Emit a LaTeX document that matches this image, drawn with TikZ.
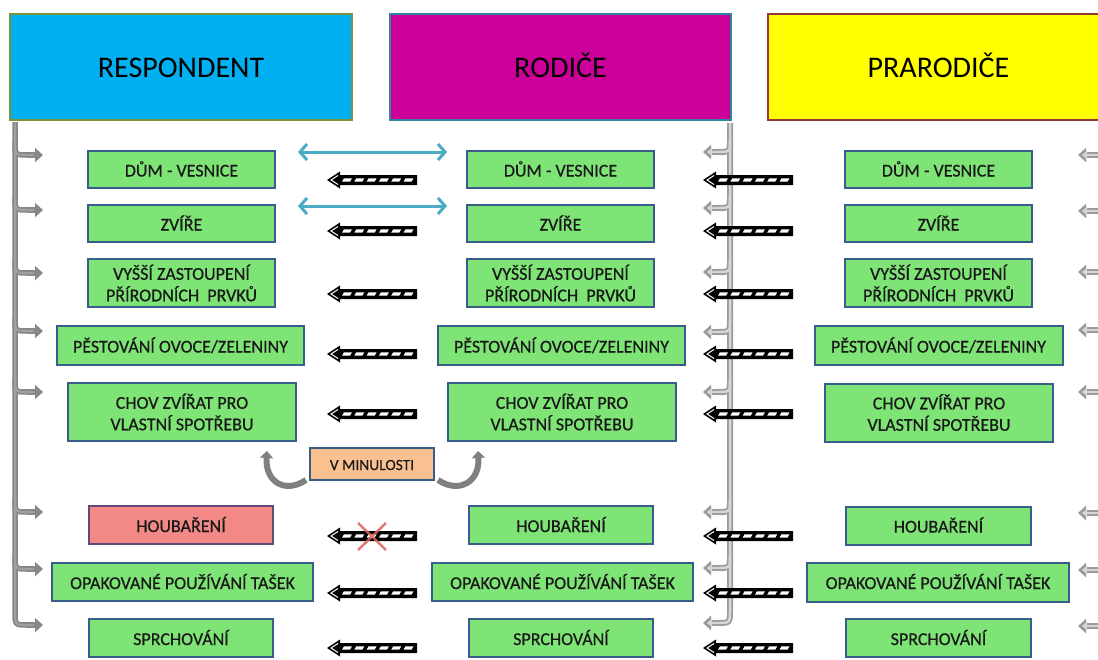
\documentclass[tikz,border=0pt]{standalone}
\usepackage{fontspec}
\setmainfont{Carlito}
\newfontface\boxfont{Carlito}[FakeBold=0.5]
\usetikzlibrary{arrows.meta}
\definecolor{gfill}{RGB}{126,228,118}
\definecolor{bbord}{RGB}{56,93,138}
\definecolor{rfill}{RGB}{242,137,134}
\definecolor{rbord}{RGB}{96,74,123}
\definecolor{ofill}{RGB}{250,192,144}
\definecolor{cyanF}{RGB}{0,176,240}
\definecolor{cyanB}{RGB}{119,147,60}
\definecolor{magF}{RGB}{204,0,153}
\definecolor{magB}{RGB}{49,133,156}
\definecolor{yelF}{RGB}{255,255,0}
\definecolor{yelB}{RGB}{149,55,53}
\definecolor{blueA}{RGB}{75,172,198}
\definecolor{grayO}{RGB}{136,136,136}
\definecolor{grayI}{RGB}{160,160,160}
\definecolor{grayO2}{RGB}{155,155,155}
\definecolor{grayI2}{RGB}{214,214,214}
\definecolor{redX}{RGB}{222,100,96}
\begin{document}
\begin{tikzpicture}[x=1pt,y=-1pt,
  hdr/.style={draw, line width=2.5pt, minimum height=106pt, text=black,
    font=\fontsize{30}{34}\selectfont, inner sep=0pt, text height=21pt, text depth=0pt},
  gbox/.style={draw=bbord, fill=gfill, line width=2pt, minimum height=#1,
    font=\boxfont\fontsize{18}{21.5}\selectfont, text=black!90, align=center, inner sep=0pt,
    text height=14pt, text depth=0pt},
  gbox/.default=38pt,
  twoline/.style={text height=36.5pt, text depth=0pt},
  rbox/.style={gbox=#1, draw=rbord, fill=rfill},
  obox/.style={draw=bbord, fill=ofill, line width=2pt, minimum width=124pt, minimum height=32pt,
    font=\boxfont\fontsize{15.5}{18}\selectfont, text=black!90, inner sep=0pt,
    text height=12pt, text depth=0pt},
  bluearr/.style={draw=blueA, line width=3pt,
    {Straight Barb[length=7pt,width=16pt]}-{Straight Barb[length=7pt,width=16pt]}},
  lbrO/.style={draw=grayO, line width=5.5pt},
  lbrI/.style={draw=grayI, line width=2pt},
  mbrO/.style={draw=grayO2, line width=6pt},
  mbrI/.style={draw=grayI2, line width=2.5pt},
  tipO/.style={-{Triangle[length=8pt,width=14pt]}},
  tipI/.style={-{Triangle[length=5pt,width=8pt]}},
  curvarr/.style={draw=black!50, line width=6pt, -{Triangle[length=7pt,width=13pt]}},
  redx/.style={draw=redX, line width=2.5pt, opacity=0.85},
  stripearrow/.pic={
    \fill[black] (0,0) -- (13,-8.5) -- (13,-5) -- (90,-5) -- (90,5) -- (13,5) -- (13,8.5) -- cycle;
    \draw[white, line width=1pt] (11,-4.5) -- (4,0) -- (11,4.5);
    \foreach \i in {0,...,5}
      \fill[white] ({15+12.3*\i},1.7) -- ({23+12.3*\i},1.7) -- ({25+12.3*\i},-1.7) -- ({17+12.3*\i},-1.7) -- cycle;
  }
]
\useasboundingbox (0,0) rectangle (1098,659);
\fill[white] (0,0) rectangle (1098,659);
\clip (0,0) rectangle (1098,659);

% headers
\node[hdr, fill=cyanF, draw=cyanB, minimum width=342pt] (resp) at (181,67) {RESPONDENT};
\node[hdr, fill=magF, draw=magB, minimum width=341pt] (rod) at (560.5,67) {RODIČE};
\node[hdr, fill=yelF, draw=yelB, minimum width=341pt] (prar) at (938.5,67) {PRARODIČE};

% left bracket (respondent)
\coordinate (lv0) at (15,122);
\coordinate (lt8) at (43,625);
\draw[lbrO] (lv0) -- (15,612) .. controls (15,625) .. (28,625);
\draw[lbrO, tipO] (27,625) -- (lt8);
\foreach \y [count=\n] in {155,210,273,331,392,512,569}{
  \coordinate (lt\n) at (43,\y);
  \draw[lbrO] (15,\y-13) .. controls (15,\y) .. (28,\y);
  \draw[lbrO, tipO] (27,\y) -- (lt\n);
}
\draw[lbrI] (lv0) -- (15,612) .. controls (15,625) .. (28,625) -- (34,625);
\foreach \y in {155,210,273,331,392,512,569}
  \draw[lbrI] (15,\y-13) .. controls (15,\y) .. (28,\y) -- (34,\y);

% middle bracket (rodice)
\coordinate (mv0) at (730,123);
\coordinate (mt8) at (703,623);
\draw[mbrO] (mv0) -- (730,610) .. controls (730,623) .. (717,623);
\draw[mbrO, tipO] (718,623) -- (mt8);
\foreach \y [count=\n] in {152,208,272,332,392,512,568}{
  \coordinate (mt\n) at (703,\y);
  \draw[mbrO] (730,\y-13) .. controls (730,\y) .. (717,\y);
  \draw[mbrO, tipO] (718,\y) -- (mt\n);
}
\draw[mbrI] (mv0) -- (730,610) .. controls (730,623) .. (717,623);
\draw[mbrI, tipI] (718,623) -- (707,623);
\foreach \y in {152,208,272,332,392,512,568}{
  \draw[mbrI] (730,\y-13) .. controls (730,\y) .. (717,\y);
  \draw[mbrI, tipI] (718,\y) -- (707,\y);
}

% right arrows (prarodice)
\foreach \y [count=\n] in {155,211,272,330,392,513,570,626}{
  \coordinate (rs\n) at (1104,\y);
  \coordinate (rt\n) at (1078,\y);
  \draw[mbrO, tipO] (rs\n) -- (rt\n);
  \draw[mbrI, tipI] (rs\n) -- (1082,\y);
}

% column 1
\node[gbox=37pt, minimum width=187pt] (c1r1) at (181.5,169.5) {DŮM - VESNICE};
\node[gbox=37pt, minimum width=187pt] (c1r2) at (181.5,223.5) {ZVÍŘE};
\node[gbox=48pt, twoline, minimum width=187pt] (c1r3) at (181.5,283) {VYŠŠÍ ZASTOUPENÍ\\PŘÍRODNÍCH~~PRVKŮ};
\node[gbox=39pt, minimum width=247pt] (c1r4) at (180.5,345.5) {PĚSTOVÁNÍ OVOCE/ZELENINY};
\node[gbox=58pt, twoline, minimum width=228pt] (c1r5) at (182,412) {CHOV ZVÍŘAT PRO\\VLASTNÍ SPOTŘEBU};
\node[rbox=38pt, minimum width=184pt] (c1r6) at (181,525) {HOUBAŘENÍ};
\node[gbox=38pt, minimum width=261pt] (c1r7) at (182.5,582) {OPAKOVANÉ POUŽÍVÁNÍ TAŠEK};
\node[gbox=38pt, minimum width=184pt] (c1r8) at (181,638) {SPRCHOVÁNÍ};

% column 2
\node[gbox=37pt, minimum width=187pt] (c2r1) at (560.5,169.5) {DŮM - VESNICE};
\node[gbox=37pt, minimum width=187pt] (c2r2) at (560.5,223.5) {ZVÍŘE};
\node[gbox=48pt, twoline, minimum width=187pt] (c2r3) at (560.5,283) {VYŠŠÍ ZASTOUPENÍ\\PŘÍRODNÍCH~~PRVKŮ};
\node[gbox=39pt, minimum width=247pt] (c2r4) at (561.5,345.5) {PĚSTOVÁNÍ OVOCE/ZELENINY};
\node[gbox=58pt, twoline, minimum width=228pt] (c2r5) at (562,412) {CHOV ZVÍŘAT PRO\\VLASTNÍ SPOTŘEBU};
\node[gbox=38pt, minimum width=184pt] (c2r6) at (561,525) {HOUBAŘENÍ};
\node[gbox=38pt, minimum width=261pt] (c2r7) at (562.5,582) {OPAKOVANÉ POUŽÍVÁNÍ TAŠEK};
\node[gbox=38pt, minimum width=184pt] (c2r8) at (561,638) {SPRCHOVÁNÍ};

% column 3
\node[gbox=37pt, minimum width=187pt] (c3r1) at (938.5,169.5) {DŮM - VESNICE};
\node[gbox=37pt, minimum width=187pt] (c3r2) at (938.5,223.5) {ZVÍŘE};
\node[gbox=48pt, twoline, minimum width=187pt] (c3r3) at (938.5,283) {VYŠŠÍ ZASTOUPENÍ\\PŘÍRODNÍCH~~PRVKŮ};
\node[gbox=39pt, minimum width=248pt] (c3r4) at (938.5,345.5) {PĚSTOVÁNÍ OVOCE/ZELENINY};
\node[gbox=58pt, twoline, minimum width=228pt] (c3r5) at (939,412.5) {CHOV ZVÍŘAT PRO\\VLASTNÍ SPOTŘEBU};
\node[gbox=38pt, minimum width=185pt] (c3r6) at (938.5,525.5) {HOUBAŘENÍ};
\node[gbox=39pt, minimum width=262pt] (c3r7) at (938,582) {OPAKOVANÉ POUŽÍVÁNÍ TAŠEK};
\node[gbox=38pt, minimum width=185pt] (c3r8) at (938.5,638) {SPRCHOVÁNÍ};

% v minulosti
\node[obox] (vm) at (372,464) {V MINULOSTI};
\coordinate (vla) at (306,480);
\coordinate (vlb) at (267,451);
\coordinate (vra) at (438,480);
\coordinate (vrb) at (478,451);
\draw[curvarr] (vla) .. controls (285,494) and (265,482) .. (vlb);
\draw[curvarr] (vra) .. controls (459,494) and (480,482) .. (vrb);

% blue double arrows
\coordinate (ba1) at (298,152);
\coordinate (bb1) at (447,152);
\coordinate (ba2) at (298,206);
\coordinate (bb2) at (447,206);
\draw[bluearr] (ba1) -- (bb1);
\draw[bluearr] (ba2) -- (bb2);

% striped arrows
\foreach \y in {180,231,294,354,414,536,593,648}{
  \pic at (327,\y) {stripearrow};
  \pic at (703,\y) {stripearrow};
}

% red cross
\draw[redx] (358,523) -- (386,550) (386,523) -- (358,550);
\end{tikzpicture}
\end{document}
